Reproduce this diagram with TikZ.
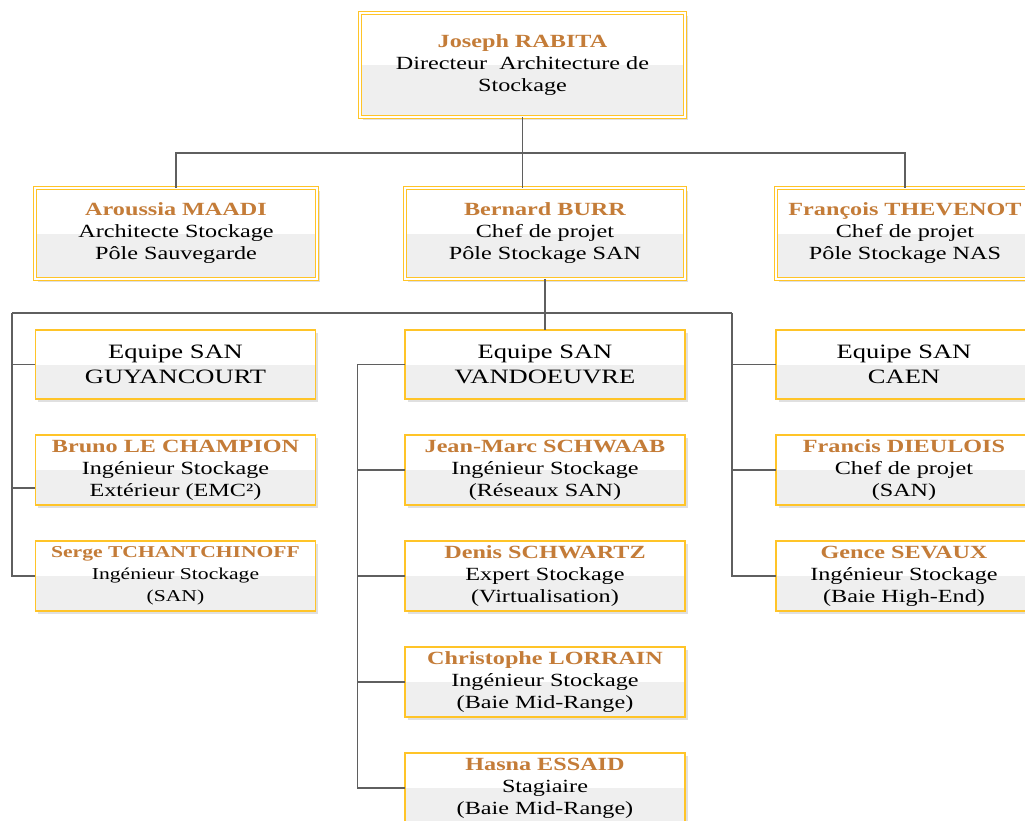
\documentclass[tikz,border=0pt]{standalone}
\usepackage{fontspec}
\setmainfont{Liberation Serif}[FakeStretch=1.3]
\usetikzlibrary{shadows}

\definecolor{boxyellow}{RGB}{255,196,40}
\definecolor{namebrown}{RGB}{196,124,56}
\definecolor{lowgrey}{RGB}{239,239,239}
\definecolor{linkgrey}{RGB}{95,95,95}

\newcommand{\who}[1]{{\bfseries\color{namebrown}#1}\\}

\tikzset{
	card/.style={align=center,inner sep=0pt,fill=white,
		font=\fontsize{18.6}{22}\selectfont,
		minimum width=280pt,minimum height=70pt,
		drop shadow={shadow xshift=2.5pt,shadow yshift=-2.5pt,fill=black!20,opacity=0.6},
		path picture={\fill[lowgrey] (path picture bounding box.west) rectangle (path picture bounding box.south east);}},
	staff/.style={card,postaction={draw=boxyellow,line width=1.8pt}},
	chief/.style={card,minimum height=91pt,
		postaction={draw=boxyellow,double=white,double distance=1.2pt,line width=1.6pt}},
	team/.style={staff,font=\fontsize{20.4}{25}\selectfont,minimum height=69pt},
	link/.style={linkgrey,line width=1.2pt}
}

\begin{document}
\begin{tikzpicture}[x=1pt,y=-1pt]
	\useasboundingbox (0,0) rectangle (1025,820);
	
	% direction
	\node[chief,minimum width=325pt,minimum height=104pt] (rabita) at (522.5,65)
	{\who{Joseph RABITA}Directeur\ \ Architecture de\\Stockage};
	
	\node[chief,minimum width=282pt] (maadi) at (176,233.5)
	{\who{Aroussia MAADI}Architecte Stockage\\Pôle Sauvegarde};
	\node[chief] (burr) at (545,233.5)
	{\who{Bernard BURR}Chef de projet\\Pôle Stockage SAN};
	\node[chief,minimum width=258pt] (thevenot) at (905,233.5)
	{\who{François THEVENOT}Chef de projet\\Pôle Stockage NAS};
	
	% equipes SAN
	\node[team] (guyancourt) at (175.5,364.5) {Equipe SAN\\GUYANCOURT};
	\node[team] (vandoeuvre) at (545,364.5) {Equipe SAN\\VANDOEUVRE};
	\node[team,minimum width=256pt] (caen) at (904,364.5) {Equipe SAN\\CAEN};
	
	\node[staff] (bruno) at (175.5,470)
	{\who{Bruno LE CHAMPION}Ingénieur Stockage\\Extérieur (EMC²)};
	\node[staff,font=\fontsize{16.6}{22}\selectfont] (serge) at (175.5,576)
	{\who{Serge TCHANTCHINOFF}Ingénieur Stockage\\(SAN)};
	
	\node[staff] (schwaab) at (545,470)
	{\who{Jean-Marc SCHWAAB}Ingénieur Stockage\\(Réseaux SAN)};
	\node[staff] (schwartz) at (545,576)
	{\who{Denis SCHWARTZ}Expert Stockage\\(Virtualisation)};
	\node[staff] (lorrain) at (545,682)
	{\who{Christophe LORRAIN}Ingénieur Stockage\\(Baie Mid-Range)};
	\node[staff] (essaid) at (545,788)
	{\who{Hasna ESSAID}Stagiaire\\(Baie Mid-Range)};
	
	\node[staff,minimum width=256pt] (dieulois) at (904,470)
	{\who{Francis DIEULOIS}Chef de projet\\(SAN)};
	\node[staff,minimum width=256pt] (sevaux) at (904,576)
	{\who{Gence SEVAUX}Ingénieur Stockage\\(Baie High-End)};
	
	% liaisons
	\coordinate (hubtop) at (522.5,153);
	\draw[link] (rabita.south) -- (rabita.south |- burr.north);
	\draw[link] (maadi.north) |- (hubtop) -| (thevenot.north);
	
	\coordinate (busleft) at (12,313);
	\coordinate (busright) at (732,313);
	\draw[link] (burr.south) -- (vandoeuvre.north);
	\draw[link] (busleft) -- (busright);
	
	\coordinate (brunotap) at ([yshift=-18pt]bruno.west);
	\draw[link] (busleft) |- (serge.west);
	\draw[link] (busleft |- guyancourt.west) -- (guyancourt.west);
	\draw[link] (busleft |- brunotap) -- (brunotap);
	
	\draw[link] (busright) |- (sevaux.west);
	\draw[link] (busright |- caen.west) -- (caen.west);
	\draw[link] (busright |- dieulois.west) -- (dieulois.west);
	
	\coordinate (busmid) at ([xshift=-47pt]vandoeuvre.west);
	\draw[link] (vandoeuvre.west) -- (busmid) |- (essaid.west);
	\foreach \n in {schwaab,schwartz,lorrain}
	\draw[link] (busmid |- \n.west) -- (\n.west);
\end{tikzpicture}
\end{document}
